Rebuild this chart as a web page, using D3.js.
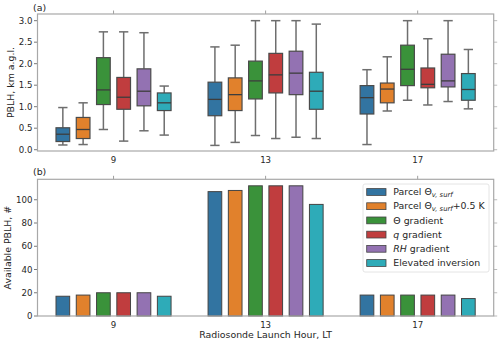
<!DOCTYPE html>
<html>
<head>
<meta charset="utf-8">
<script src="https://cdn.jsdelivr.net/npm/d3@7"></script>
<style>
  body { margin: 0; background: #fff; }
  text { font-family: "DejaVu Sans", sans-serif; fill: #262626; }
</style>
</head>
<body>
<script>
// launch hours and the six PBLH methods
var hours = ["9", "13", "17"];
var methods = ["surf", "surf05", "theta", "q", "rh", "inv"];
var colors = ["#3274a1", "#e1812c", "#3a923a", "#c03d3e", "#9372b2", "#2eabb8"];

// box stats per method, one value per hour (km)
var whiskLo = [[0.11, 0.10, 0.12], [0.12, 0.17, 0.90], [0.47, 0.33, 1.15],
               [0.20, 0.26, 1.04], [0.44, 0.29, 1.12], [0.34, 0.26, 0.95]];
var q1 =      [[0.19, 0.79, 0.83], [0.26, 0.91, 1.09], [1.05, 1.18, 1.49],
               [0.94, 1.32, 1.44], [1.02, 1.28, 1.46], [0.91, 0.94, 1.15]];
var med =     [[0.36, 1.17, 1.21], [0.47, 1.28, 1.41], [1.39, 1.60, 1.87],
               [1.22, 1.74, 1.52], [1.36, 1.78, 1.60], [1.09, 1.36, 1.40]];
var q3 =      [[0.51, 1.57, 1.49], [0.75, 1.67, 1.55], [2.14, 2.06, 2.43],
               [1.68, 2.24, 1.90], [1.88, 2.29, 2.22], [1.32, 1.80, 1.77]];
var whiskHi = [[0.98, 2.39, 1.86], [1.09, 2.43, 2.16], [2.74, 3.00, 3.00],
               [2.74, 3.00, 2.58], [2.72, 3.00, 3.00], [1.48, 2.92, 2.33]];

// available PBLH counts per method, one per hour
var counts = [[17, 107, 18], [18, 108, 18], [20, 112, 18],
              [20, 112, 18], [20, 112, 18], [17, 96, 15]];

var yTicksA = [0, 0.5, 1.0, 1.5, 2.0, 2.5, 3.0];
var yTicksB = [0, 20, 40, 60, 80, 100];

var W = 500, H = 344;
var left = 37.5, right = 493.7;
var topA = 14, botA = 151, topB = 179.3, botB = 316;
var tickFont = "8.6px", labFont = "9.4px";

var svg = d3.select("body").append("svg")
    .attr("width", W).attr("height", H);

var x = d3.scaleLinear().domain([-0.5, 2.5]).range([left, right]);
var yA = d3.scaleLinear().domain([-0.03, 3.155]).range([botA, topA]);
var yB = d3.scaleLinear().domain([0, 117.6]).range([botB, topB]);

var slot = 0.8 / methods.length;
var bw = 0.09; // box / bar width in category units
function cx(h, m) { return x(h + (m - 2.5) * slot); }
var half = (x(bw) - x(0)) / 2;
var capHalf = half * 0.68;

var spine = "#a8a8a8";

function frame(top, bot, y, ticks, fmt) {
  var g = svg.append("g");
  ticks.forEach(function(t) {
    g.append("line").attr("x1", left - 3.5).attr("x2", left)
      .attr("y1", y(t)).attr("y2", y(t)).attr("stroke", "#555").attr("stroke-width", 0.8);
    g.append("line").attr("x1", right).attr("x2", right + 3.5)
      .attr("y1", y(t)).attr("y2", y(t)).attr("stroke", "#aaa").attr("stroke-width", 0.8);
    g.append("text").attr("x", left - 5).attr("y", y(t)).attr("dy", "0.35em")
      .attr("text-anchor", "end").style("font-size", tickFont).text(fmt(t));
  });
  hours.forEach(function(h, i) {
    g.append("line").attr("x1", x(i)).attr("x2", x(i))
      .attr("y1", top - 3.5).attr("y2", top).attr("stroke", "#888").attr("stroke-width", 0.8);
    g.append("text").attr("x", x(i)).attr("y", bot + 11.5).attr("text-anchor", "middle")
      .style("font-size", tickFont).text(h);
  });
  g.append("rect").attr("x", left).attr("y", top)
    .attr("width", right - left).attr("height", bot - top)
    .attr("fill", "none").attr("stroke", spine).attr("stroke-width", 1.2);
}

// panel (a): box plots
var gA = svg.append("g");
methods.forEach(function(m, mi) {
  hours.forEach(function(h, hi) {
    var c = cx(hi, mi);
    var wc = "#6e6e6e";
    gA.append("line").attr("x1", c).attr("x2", c)
      .attr("y1", yA(whiskHi[mi][hi])).attr("y2", yA(q3[mi][hi]))
      .attr("stroke", wc).attr("stroke-width", 1.5);
    gA.append("line").attr("x1", c).attr("x2", c)
      .attr("y1", yA(q1[mi][hi])).attr("y2", yA(whiskLo[mi][hi]))
      .attr("stroke", wc).attr("stroke-width", 1.5);
    [whiskHi[mi][hi], whiskLo[mi][hi]].forEach(function(v) {
      gA.append("line").attr("x1", c - capHalf).attr("x2", c + capHalf)
        .attr("y1", yA(v)).attr("y2", yA(v)).attr("stroke", wc).attr("stroke-width", 1.5);
    });
    gA.append("rect").attr("x", c - half).attr("y", yA(q3[mi][hi]))
      .attr("width", 2 * half).attr("height", yA(q1[mi][hi]) - yA(q3[mi][hi]))
      .attr("fill", colors[mi]).attr("stroke", "#4a4a4a").attr("stroke-width", 1.2);
    gA.append("line").attr("x1", c - half).attr("x2", c + half)
      .attr("y1", yA(med[mi][hi])).attr("y2", yA(med[mi][hi]))
      .attr("stroke", "#3d3d3d").attr("stroke-width", 1.3);
  });
});
frame(topA, botA, yA, yTicksA, d3.format(".1f"));

// panel (b): counts
var gB = svg.append("g");
methods.forEach(function(m, mi) {
  hours.forEach(function(h, hi) {
    var c = cx(hi, mi);
    gB.append("rect").attr("x", c - half).attr("y", yB(counts[mi][hi]))
      .attr("width", 2 * half).attr("height", yB(0) - yB(counts[mi][hi]))
      .attr("fill", colors[mi]).attr("stroke", "#444").attr("stroke-width", 1);
  });
});
frame(topB, botB, yB, yTicksB, d3.format("d"));

// panel letters
svg.append("text").attr("x", 33).attr("y", 11).style("font-size", labFont).text("(a)");
svg.append("text").attr("x", 33).attr("y", 175).style("font-size", labFont).text("(b)");

// axis labels
svg.append("text").attr("transform", "translate(13.5," + ((topA + botA) / 2) + ") rotate(-90)")
  .attr("text-anchor", "middle").style("font-size", labFont).text("PBLH, km a.g.l.");
svg.append("text").attr("transform", "translate(11," + ((topB + botB) / 2) + ") rotate(-90)")
  .attr("text-anchor", "middle").style("font-size", labFont).text("Available PBLH, #");
svg.append("text").attr("x", (left + right) / 2).attr("y", 338)
  .attr("text-anchor", "middle").style("font-size", labFont).text("Radiosonde Launch Hour, LT");

// legend
var leg = svg.append("g");
leg.append("rect").attr("x", 363).attr("y", 184).attr("width", 126).attr("height", 88)
  .attr("rx", 2).attr("fill", "#fff").attr("fill-opacity", 0.8)
  .attr("stroke", "#ddd").attr("stroke-width", 0.8);
var labels = [
  [["Parcel Θ", ""], ["v, surf", "sub"]],
  [["Parcel Θ", ""], ["v, surf", "sub"], ["+0.5 K", "back"]],
  [["Θ gradient", ""]],
  [["q", "it"], [" gradient", ""]],
  [["RH", "it"], [" gradient", ""]],
  [["Elevated inversion", ""]]
];
labels.forEach(function(parts, i) {
  var yy = 192 + i * 14.2;
  leg.append("rect").attr("x", 366.7).attr("y", yy - 3.4).attr("width", 19.3).attr("height", 6.8)
    .attr("fill", colors[i]).attr("stroke", "#444").attr("stroke-width", 0.8);
  var t = leg.append("text").attr("x", 393.3).attr("y", yy).attr("dy", "0.35em")
    .style("font-size", labFont);
  parts.forEach(function(p) {
    var s = t.append("tspan").text(p[0]);
    if (p[1] === "sub") s.style("font-size", "6.8px").style("font-style", "italic").attr("dy", "2");
    else if (p[1] === "it") s.style("font-style", "italic");
    else if (p[1] === "back") s.attr("dy", "-2");
  });
});
</script>
</body>
</html>
